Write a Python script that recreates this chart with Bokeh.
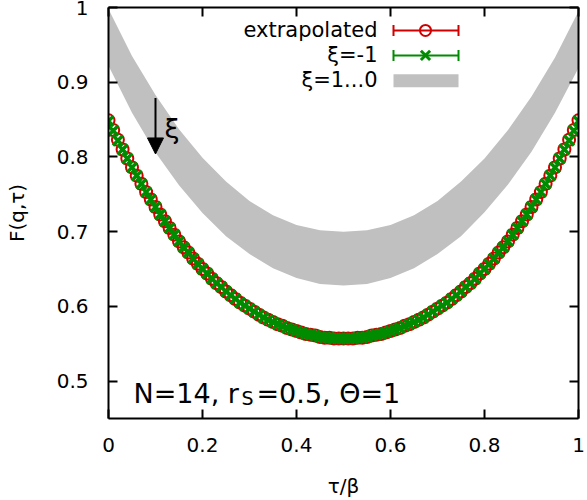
from bokeh.plotting import figure
from bokeh.models import (Range1d, FixedTicker, LinearAxis, CustomJSTickFormatter,
                          Label, Arrow, NormalHead, TeeHead)
from bokeh.embed import file_html
from bokeh.resources import INLINE

# ---------------- data ----------------
tau = [round(0.01 * i, 2) for i in range(101)]

f_extrapolated = [
    0.849, 0.836, 0.823, 0.810, 0.798, 0.786, 0.775, 0.764, 0.753, 0.743,
    0.733, 0.723, 0.714, 0.705, 0.696, 0.687, 0.679, 0.672, 0.664, 0.657,
    0.650, 0.644, 0.637, 0.631, 0.626, 0.620, 0.615, 0.610, 0.605, 0.601,
    0.597, 0.593, 0.589, 0.585, 0.582, 0.579, 0.576, 0.574, 0.571, 0.569,
    0.567, 0.565, 0.563, 0.562, 0.561, 0.559, 0.558, 0.558, 0.557, 0.557,
    0.557,
    0.557, 0.557, 0.558, 0.558, 0.559, 0.561, 0.562, 0.563, 0.565, 0.567,
    0.569, 0.571, 0.574, 0.576, 0.579, 0.582, 0.585, 0.589, 0.593, 0.597,
    0.601, 0.605, 0.610, 0.615, 0.620, 0.626, 0.631, 0.637, 0.644, 0.650,
    0.657, 0.664, 0.672, 0.679, 0.687, 0.696, 0.705, 0.714, 0.723, 0.733,
    0.743, 0.753, 0.764, 0.775, 0.786, 0.798, 0.810, 0.823, 0.836, 0.849,
]

f_xi_minus1 = [
    0.848, 0.835, 0.822, 0.810, 0.798, 0.786, 0.775, 0.764, 0.753, 0.743,
    0.733, 0.723, 0.714, 0.705, 0.696, 0.687, 0.679, 0.672, 0.664, 0.657,
    0.650, 0.644, 0.637, 0.631, 0.626, 0.620, 0.615, 0.610, 0.605, 0.601,
    0.597, 0.593, 0.589, 0.585, 0.582, 0.579, 0.576, 0.574, 0.571, 0.569,
    0.567, 0.565, 0.563, 0.562, 0.561, 0.559, 0.558, 0.558, 0.557, 0.557,
    0.557,
    0.557, 0.557, 0.558, 0.558, 0.559, 0.561, 0.562, 0.563, 0.565, 0.567,
    0.569, 0.571, 0.574, 0.576, 0.579, 0.582, 0.585, 0.589, 0.593, 0.597,
    0.601, 0.605, 0.610, 0.615, 0.620, 0.626, 0.631, 0.637, 0.644, 0.650,
    0.657, 0.664, 0.672, 0.679, 0.687, 0.696, 0.705, 0.714, 0.723, 0.733,
    0.743, 0.753, 0.764, 0.775, 0.786, 0.798, 0.810, 0.822, 0.835, 0.848,
]

band_tau = [0.0, 0.05, 0.10, 0.15, 0.20, 0.25, 0.30, 0.35, 0.40, 0.45, 0.50,
            0.55, 0.60, 0.65, 0.70, 0.75, 0.80, 0.85, 0.90, 0.95, 1.0]
band_upper = [0.998, 0.935, 0.883, 0.837, 0.799, 0.767, 0.741, 0.722, 0.709, 0.702, 0.700,
              0.702, 0.709, 0.722, 0.741, 0.767, 0.798, 0.836, 0.881, 0.933, 0.995]
band_lower = [0.922, 0.859, 0.806, 0.762, 0.725, 0.694, 0.670, 0.651, 0.638, 0.630, 0.628,
              0.630, 0.638, 0.651, 0.670, 0.694, 0.726, 0.763, 0.807, 0.859, 0.919]

x_ticks = [0.0, 0.2, 0.4, 0.6, 0.8, 1.0]
y_ticks = [0.5, 0.6, 0.7, 0.8, 0.9, 1.0]

legend_labels = ["extrapolated", "\u03be=-1", "\u03be=1...0"]
x_label = "\u03c4/\u03b2"
y_label = "F(q,\u03c4)"

# ---------------- layout helpers ----------------
W, H = 587, 500
FL, FR, FT, FB = 108, 578, 7, 419
X0, X1 = 0.0, 1.0
Y0, Y1 = 0.45, 1.0


def px2x(px):
    return X0 + (px - FL) / (FR - FL) * (X1 - X0)


def px2y(py):
    return Y1 - (py - FT) / (FB - FT) * (Y1 - Y0)


FONT = "DejaVu Sans"
RED = "#d00000"
GREEN = "#008c00"
GRAY = "#c0c0c0"

p = figure(width=W, height=H, x_range=Range1d(X0, X1), y_range=Range1d(Y0, Y1),
           output_backend="svg", toolbar_location=None,
           min_border_left=FL, min_border_right=W - FR,
           min_border_top=FT, min_border_bottom=H - FB)
p.xgrid.visible = False
p.ygrid.visible = False
p.outline_line_color = None
p.background_fill_color = "white"
p.border_fill_color = "white"

fmt = CustomJSTickFormatter(code="var s = tick.toFixed(1); return s.endsWith('.0') ? s.slice(0, -2) : s;")
blank = CustomJSTickFormatter(code="return '';")


def style_axis(ax, ticks, labels=True):
    ax.ticker = FixedTicker(ticks=ticks)
    ax.axis_line_color = "black"
    ax.axis_line_width = 2
    ax.major_tick_line_color = "black"
    ax.major_tick_line_width = 2
    ax.major_tick_in = 9
    ax.major_tick_out = 0
    ax.minor_tick_line_color = None
    ax.major_label_text_font = FONT
    ax.major_label_text_font_size = "20px"
    ax.major_label_text_color = "black"
    ax.axis_label_text_font = FONT
    ax.axis_label_text_font_size = "20px"
    ax.axis_label_text_font_style = "normal"
    ax.axis_label_text_color = "black"
    if labels:
        ax.formatter = fmt
    else:
        ax.formatter = blank
        ax.major_label_standoff = 0


xa = p.xaxis[0]
ya = p.yaxis[0]
style_axis(xa, x_ticks)
style_axis(ya, y_ticks)
xa.axis_label = x_label
ya.axis_label = y_label
xa.major_label_standoff = 19
xa.axis_label_standoff = 19
ya.major_label_standoff = 20
ya.axis_label_standoff = 25

top = LinearAxis()
style_axis(top, x_ticks, labels=False)
p.add_layout(top, "above")
right = LinearAxis()
style_axis(right, y_ticks, labels=False)
p.add_layout(right, "right")

# ---------------- data marks ----------------
p.varea(x=band_tau, y1=band_lower, y2=band_upper, fill_color=GRAY, fill_alpha=1.0)

p.scatter(x=tau, y=f_extrapolated, marker="circle", size=12,
          line_color=RED, line_width=2, fill_color=None)
p.scatter(x=tau, y=f_xi_minus1, marker="x", size=14,
          line_color=GREEN, line_width=3.5)

# ---------------- legend (gnuplot style: text left, sample right) ----------------
rows_px = [30, 55, 80]
text_right_px = 377
sample_l_px, sample_r_px, sample_c_px = 393, 458, 425

for lab, ry in zip(legend_labels, rows_px):
    p.add_layout(Label(x=px2x(text_right_px), y=px2y(ry), text=lab,
                       text_align="right", text_baseline="middle",
                       text_font=FONT, text_font_size="21px", text_color="black"))

for col, ry, mk, sz in [(RED, rows_px[0], "circle", 11), (GREEN, rows_px[1], "x", 13)]:
    p.add_layout(Arrow(x_start=px2x(sample_l_px), y_start=px2y(ry),
                       x_end=px2x(sample_r_px), y_end=px2y(ry),
                       line_color=col, line_width=2,
                       start=TeeHead(size=11, line_color=col, line_width=2),
                       end=TeeHead(size=11, line_color=col, line_width=2)))
    if mk == "circle":
        p.scatter(x=[px2x(sample_c_px)], y=[px2y(ry)], marker=mk, size=sz,
                  line_color=col, line_width=2, fill_color="white")
    else:
        p.scatter(x=[px2x(sample_c_px)], y=[px2y(ry)], marker=mk, size=sz,
                  line_color=col, line_width=3)

p.quad(left=[px2x(sample_l_px)], right=[px2x(sample_r_px)],
       top=[px2y(74)], bottom=[px2y(87)], fill_color=GRAY, line_color=None)

# ---------------- xi arrow ----------------
p.add_layout(Arrow(x_start=0.1, y_start=0.879, x_end=0.1, y_end=0.804,
                   line_color="black", line_width=2,
                   end=NormalHead(size=16, fill_color="black", line_color="black")))
p.add_layout(Label(x=px2x(164), y=px2y(128), text="\u03be",
                   text_align="left", text_baseline="middle",
                   text_font=FONT, text_font_size="27px", text_color="black"))

# ---------------- parameter annotation ----------------
p.add_layout(Label(x=px2x(133), y=px2y(394), text="N=14, r",
                   text_align="left", text_baseline="alphabetic",
                   text_font=FONT, text_font_size="27px", text_color="black"))
p.add_layout(Label(x=px2x(241), y=px2y(398), text="S",
                   text_align="left", text_baseline="alphabetic",
                   text_font=FONT, text_font_size="19px", text_color="black"))
p.add_layout(Label(x=px2x(256), y=px2y(394), text="=0.5, \u0398=1",
                   text_align="left", text_baseline="alphabetic",
                   text_font=FONT, text_font_size="27px", text_color="black"))

open("out.html", "w").write(file_html(p, INLINE))
